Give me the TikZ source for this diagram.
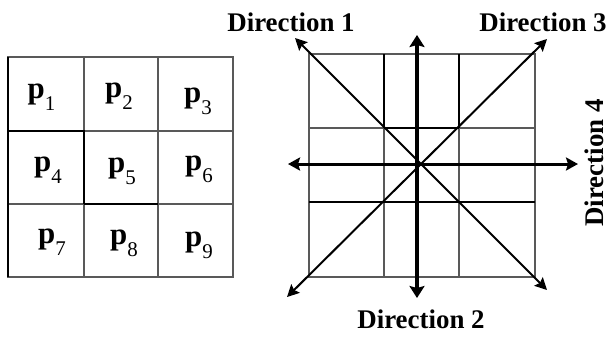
\documentclass[tikz,border=0pt]{standalone}
\usepackage{fontspec}
\setmainfont{Liberation Serif}
\usetikzlibrary{arrows.meta}
\newcommand{\plab}[1]{{\fontsize{31}{31}\selectfont\bfseries p}\raisebox{-12bp}{\fontsize{21}{21}\selectfont #1}}
\begin{document}
\begin{tikzpicture}[x=1bp,y=-1bp,
  gridthin/.style={line width=1.1bp, draw=black!65},
  gridthick/.style={line width=1.8bp, draw=black},
  plabel/.style={inner sep=0pt, anchor=center},
  dirlabel/.style={inner sep=0pt, anchor=base, font=\fontsize{27}{27}\selectfont\bfseries},
  tip/.style={Stealth[length=12bp,width=14bp,inset=2bp]},
  bigarrow/.style={line width=4.2bp, {Stealth[length=12bp,width=15bp,inset=2bp]}-{Stealth[length=12bp,width=15bp,inset=2bp]}},
  medarrow/.style={line width=3bp, {Stealth[length=12bp,width=13bp,inset=2bp]}-{Stealth[length=12bp,width=13bp,inset=2bp]}},
  diagarrow/.style={line width=2bp, {Stealth[length=12bp,width=12bp,inset=2bp]}-{Stealth[length=12bp,width=12bp,inset=2bp]}}]
\useasboundingbox (0,0) rectangle (613,336);
% left grid
\draw[gridthin] (8,57) rectangle (233,277);
\draw[gridthin] (84,57) -- (84,277) (158,57) -- (158,277);
\draw[gridthin] (8,131) -- (233,131) (8,204) -- (233,204);
\draw[gridthick] (8,57) -- (8,277);
\draw[gridthick] (8,131) -- (84,131) -- (84,204);
\draw[gridthick] (84,204) -- (158,204);
\node[plabel] (p1) at (41.5,97) {\plab{1}};
\node[plabel] (p2) at (119,96) {\plab{2}};
\node[plabel] (p3) at (198,101) {\plab{3}};
\node[plabel] (p4) at (48,170) {\plab{4}};
\node[plabel] (p5) at (122,171) {\plab{5}};
\node[plabel] (p6) at (199,169) {\plab{6}};
\node[plabel] (p7) at (52,242) {\plab{7}};
\node[plabel] (p8) at (124,243) {\plab{8}};
\node[plabel] (p9) at (199,245) {\plab{9}};
% right grid
\draw[gridthin] (309,54) rectangle (535,277);
\draw[gridthin] (384,54) -- (384,277) (459,54) -- (459,277);
\draw[gridthin] (309,128) -- (535,128) (309,202) -- (535,202);
\draw[gridthick] (384,54) -- (384,128) (459,54) -- (459,128);
\draw[line width=1.5bp] (384,128) -- (459,128) (309,202) -- (535,202);
% arrow ends
\coordinate (vt) at (417,35);
\coordinate (vb) at (417,298);
\coordinate (hl) at (288,164);
\coordinate (hr) at (578,164);
\coordinate (d1a) at (295,38);
\coordinate (d1b) at (547,290);
\coordinate (d3a) at (547,39);
\coordinate (d3b) at (287,297);
\draw[diagarrow] (d1a) -- (d1b);
\draw[diagarrow] (d3b) -- (d3a);
\draw[medarrow] (hl) -- (hr);
\draw[bigarrow] (vt) -- (vb);
% labels
\node[dirlabel] (dir1) at (291,31) {Direction 1};
\node[dirlabel] (dir3) at (543,31) {Direction 3};
\node[dirlabel] (dir2) at (421,328) {Direction 2};
\node[dirlabel, rotate=90] (dir4) at (603,163) {Direction 4};
\end{tikzpicture}
\end{document}
